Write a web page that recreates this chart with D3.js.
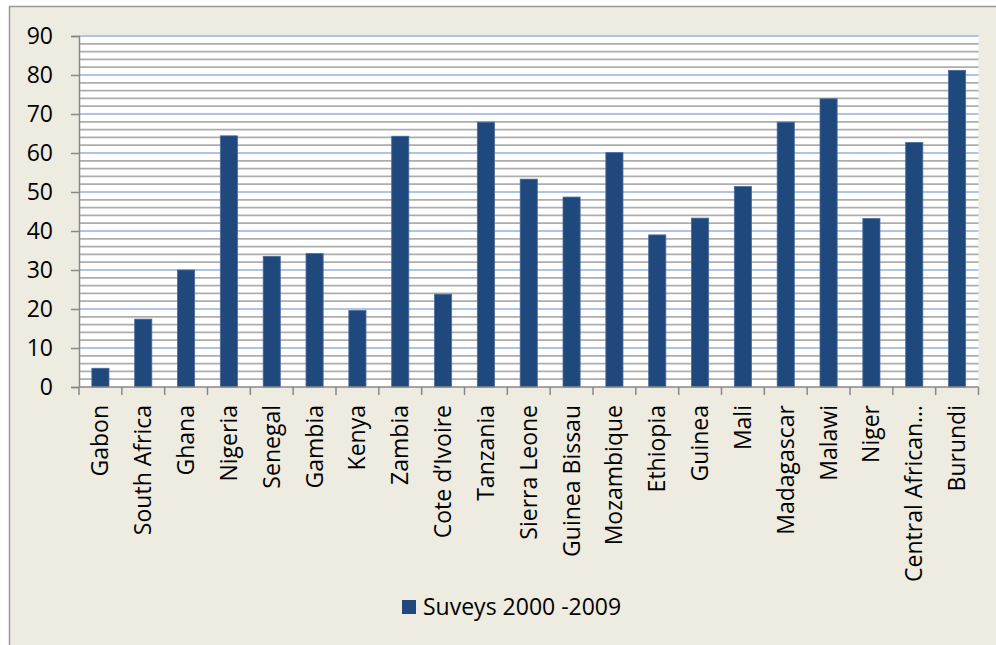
<!DOCTYPE html>
<html>
<head>
<meta charset="utf-8">
<script src="https://cdn.jsdelivr.net/npm/d3@7"></script>
<style>
  html, body { margin: 0; padding: 0; background: #ffffff; }
  svg { display: block; }
  text { font-family: "Open Sans", "Noto Sans", sans-serif; fill: #000; }
</style>
</head>
<body>
<svg id="chart" width="996" height="645"></svg>
<script>
// Survey results by country, 2000–2009
const countries = ["Gabon", "South Africa", "Ghana", "Nigeria", "Senegal", "Gambia", "Kenya",
  "Zambia", "Cote d\u2019Ivoire", "Tanzania", "Sierra Leone", "Guinea Bissau", "Mozambique",
  "Ethiopia", "Guinea", "Mali", "Madagascar", "Malawi", "Niger", "Central African\u2026", "Burundi"];
const values = [4.8, 17.4, 30.0, 64.4, 33.5, 34.2, 19.6,
  64.3, 23.8, 67.9, 53.3, 48.7, 60.1,
  39.0, 43.3, 51.4, 67.9, 73.9, 43.2, 62.7, 81.2];
const seriesName = "Suveys 2000 -2009";
const yTicks = [0, 10, 20, 30, 40, 50, 60, 70, 80, 90];
const yMinorTicks = d3.range(0, 91, 2);

const svg = d3.select("#chart");
const W = 996, H = 645;
const plot = { left: 79, right: 978.5, top: 36, bottom: 387 };
const fontSize = 23;

// Chart area background and frame
svg.append("rect")
  .attr("x", 9.5).attr("y", 6.5)
  .attr("width", W + 20).attr("height", H + 20)
  .attr("fill", "#EEEBE0")
  .attr("stroke", "#9A9A9A").attr("stroke-width", 1.5);

const x = d3.scaleBand()
  .domain(countries)
  .range([plot.left, plot.right])
  .paddingInner(0.6)
  .paddingOuter(0.3);

const y = d3.scaleLinear()
  .domain([0, 90])
  .range([plot.bottom, plot.top]);

// Plot area
svg.append("rect")
  .attr("x", plot.left).attr("y", plot.top)
  .attr("width", plot.right - plot.left).attr("height", plot.bottom - plot.top)
  .attr("fill", "#ffffff");

// Minor gridlines
svg.append("g")
  .selectAll("line")
  .data(yMinorTicks.filter(d => d % 10 !== 0))
  .join("line")
  .attr("x1", plot.left).attr("x2", plot.right)
  .attr("y1", d => y(d)).attr("y2", d => y(d))
  .attr("stroke", "#ADADAD").attr("stroke-width", 1.8);

// Major gridlines
svg.append("g")
  .selectAll("line")
  .data(yTicks.filter(d => d > 0))
  .join("line")
  .attr("x1", plot.left).attr("x2", plot.right)
  .attr("y1", d => y(d)).attr("y2", d => y(d))
  .attr("stroke", "#AFC3E5").attr("stroke-width", 1.8);

// Bars
svg.append("g")
  .selectAll("rect")
  .data(values)
  .join("rect")
  .attr("x", (d, i) => x(countries[i]))
  .attr("y", d => y(d))
  .attr("width", x.bandwidth())
  .attr("height", d => y(0) - y(d))
  .attr("fill", "#1F497D")
  .attr("stroke", "#4A6A9C").attr("stroke-width", 0.8);

// Y axis
const yAxis = svg.append("g")
  .attr("transform", `translate(${plot.left},0)`)
  .call(d3.axisLeft(y).tickValues(yTicks).tickSize(8).tickPadding(18).tickFormat(d3.format("d")));
yAxis.select(".domain").attr("stroke", "#888888").attr("stroke-width", 1.5);
yAxis.selectAll(".tick line").attr("stroke", "#888888").attr("stroke-width", 1.5);
yAxis.selectAll(".tick text")
  .attr("font-size", fontSize)
  .style("font-family", "'Open Sans', 'Noto Sans', sans-serif")
  .attr("fill", "#000");

// X axis: line plus tick marks at category boundaries
const step = x.step();
const boundaries = d3.range(countries.length + 1).map(i => plot.left + i * step);
svg.append("line")
  .attr("x1", plot.left).attr("x2", plot.right)
  .attr("y1", plot.bottom).attr("y2", plot.bottom)
  .attr("stroke", "#888888").attr("stroke-width", 1.5);
svg.append("g")
  .selectAll("line")
  .data(boundaries)
  .join("line")
  .attr("x1", d => d).attr("x2", d => d)
  .attr("y1", plot.bottom).attr("y2", plot.bottom + 8)
  .attr("stroke", "#888888").attr("stroke-width", 1.5);

// Category labels, rotated
svg.append("g")
  .selectAll("text")
  .data(countries)
  .join("text")
  .attr("transform", d => `translate(${x(d) + x.bandwidth() / 2},405) rotate(-90)`)
  .attr("text-anchor", "end")
  .attr("dy", "0.35em")
  .attr("font-size", fontSize)
  .text(d => d);

// Legend
const legend = svg.append("g").attr("transform", "translate(402,600)");
legend.append("rect")
  .attr("width", 14).attr("height", 14)
  .attr("fill", "#1F497D");
legend.append("text")
  .attr("x", 21).attr("y", 15)
  .attr("font-size", fontSize)
  .text(seriesName);
</script>
</body>
</html>
